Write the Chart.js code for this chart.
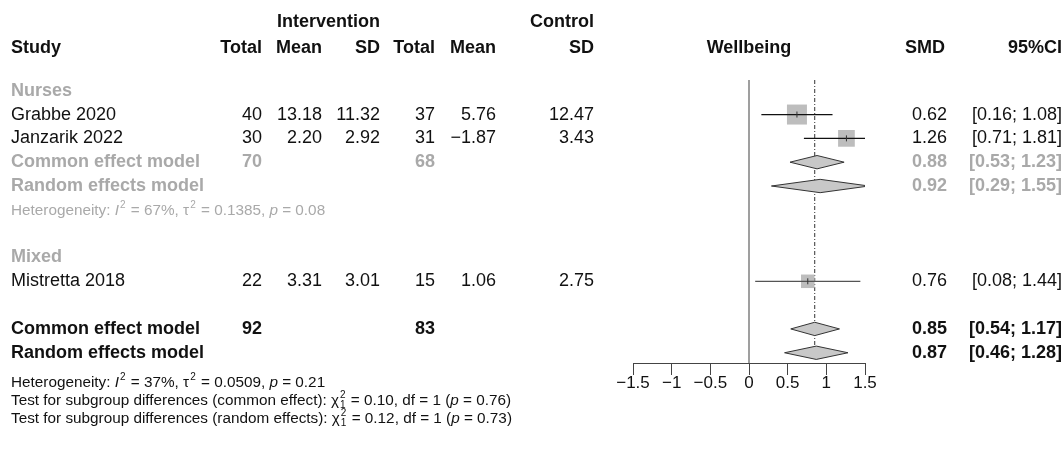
<!DOCTYPE html>
<html>
<head>
<meta charset="utf-8">
<script src="https://cdn.jsdelivr.net/npm/chart.js@4/dist/chart.umd.min.js"></script>
<style>
  body { margin: 0; background: #fff; }
  #wrap { width: 1063px; height: 458px; }
</style>
</head>
<body>
<div id="wrap"><canvas id="forest" width="1063" height="458"></canvas></div>
<script>
// Wellbeing forest plot (meta-analysis, SMD)
const studies   = ['Grabbe 2020', 'Janzarik 2022', 'Mistretta 2018'];
const subgroup  = ['Nurses', 'Nurses', 'Mixed'];
const intTotal  = [40, 30, 22];
const intMean   = [13.18, 2.20, 3.31];
const intSD     = [11.32, 2.92, 3.01];
const ctlTotal  = [37, 31, 15];
const ctlMean   = [5.76, -1.87, 1.06];
const ctlSD     = [12.47, 3.43, 2.75];
const smd       = [0.62, 1.26, 0.76];
const ciLow     = [0.16, 0.71, 0.08];
const ciHigh    = [1.08, 1.81, 1.44];

// pooled estimates [est, lo, hi]
const nursesCommon  = [0.88, 0.53, 1.23];
const nursesRandom  = [0.92, 0.29, 1.55];
const nursesTotals  = [70, 68];
const overallCommon = [0.85, 0.54, 1.17];
const overallRandom = [0.87, 0.46, 1.28];
const overallTotals = [92, 83];

// heterogeneity [I2 %, tau2, p] and subgroup tests [chi2, df, p]
const hetNurses   = [67, 0.1385, 0.08];
const hetOverall  = [37, 0.0509, 0.21];
const testCommon  = [0.10, 1, 0.76];
const testRandom  = [0.12, 1, 0.73];

const xTicks = [-1.5, -1, -0.5, 0, 0.5, 1, 1.5];

// ---- layout (row index on the y scale) ----
const studyRows = [1, 2, 8];
const ROW_NURSES = 0, ROW_N_COMMON = 3, ROW_N_RANDOM = 4, ROW_N_HET = 5;
const ROW_MIXED = 7, ROW_COMMON = 10, ROW_RANDOM = 11;
const Y_MIN = -0.45, Y_MAX = 11.43;
const DIAMOND_H = 0.28;

const FONT = "'Liberation Sans', Arial, Helvetica, sans-serif";
const GREY = '#a9a9a9';
const BLACK = '#111';

// square size from inverse-variance weights
const weights = ciLow.map((lo, i) => { const se = (ciHigh[i] - lo) / 3.92; return 1 / (se * se); });
const wMax = Math.max(...weights);
const squareRadius = weights.map(w => 20 * Math.sqrt(w / wMax) / Math.SQRT2);

const diamond = (p, row) => [
  { x: p[1], y: row }, { x: p[0], y: row - DIAMOND_H },
  { x: p[2], y: row }, { x: p[0], y: row + DIAMOND_H }, { x: p[1], y: row }
];

const datasets = [];
datasets.push({
  data: smd.map((v, i) => ({ x: v, y: studyRows[i] })),
  showLine: false, pointStyle: 'line', rotation: 90, pointRadius: 3,
  borderColor: '#333', borderWidth: 1, order: 0
});
datasets.push({
  data: smd.map((v, i) => ({ x: v, y: studyRows[i] })),
  showLine: false, pointStyle: 'rect', pointRadius: squareRadius,
  backgroundColor: '#bdbdbd', borderWidth: 0, order: 3
});
studies.forEach((s, i) => {
  datasets.push({
    data: [{ x: ciLow[i], y: studyRows[i] }, { x: ciHigh[i], y: studyRows[i] }],
    borderColor: i === 2 ? '#555' : '#111', borderWidth: 1.2, pointRadius: 0, order: 2
  });
});
[[nursesCommon, ROW_N_COMMON], [nursesRandom, ROW_N_RANDOM],
 [overallCommon, ROW_COMMON], [overallRandom, ROW_RANDOM]].forEach(([p, r]) => {
  datasets.push({
    data: diamond(p, r), borderColor: '#333', borderWidth: 1,
    backgroundColor: '#c8c8c8', fill: 'shape', pointRadius: 0, tension: 0, order: 4
  });
});
datasets.push({
  data: [{ x: overallCommon[0], y: Y_MIN }, { x: overallCommon[0], y: ROW_RANDOM }],
  borderColor: '#333', borderWidth: 1, borderDash: [4, 2, 1, 2], pointRadius: 0, order: 5
});
datasets.push({
  data: [{ x: 0, y: Y_MIN }, { x: 0, y: Y_MAX }],
  borderColor: '#808080', borderWidth: 1.5, pointRadius: 0, order: 6
});

const fmt = (v, d) => v.toFixed(d).replace('-', '\u2212');

// rich text: segments [text, style] with style n / i / sup / supsub
function rich(ctx, x, yc, segs, size, color) {
  const base = yc + size * 0.36;
  ctx.fillStyle = color;
  ctx.textAlign = 'left';
  ctx.textBaseline = 'alphabetic';
  segs.forEach(([t, st]) => {
    if (st === 'sup' || st === 'supsub') {
      ctx.font = `${Math.round(size * 0.68)}px ${FONT}`;
      const sup = st === 'sup' ? t : t[0];
      ctx.fillText(sup, x + 1, base - size * 0.45);
      let w = ctx.measureText(sup).width;
      if (st === 'supsub') {
        ctx.fillText(t[1], x + 1, base + size * 0.25);
        w = Math.max(w, ctx.measureText(t[1]).width);
      }
      x += w + 2;
    } else {
      ctx.font = `${st === 'i' ? 'italic ' : ''}${size}px ${FONT}`;
      ctx.fillText(t, x, base);
      x += ctx.measureText(t).width;
    }
  });
}

const hetSegs = h => [['Heterogeneity: ', 'n'], ['I', 'i'], ['2', 'sup'],
  [` = ${h[0]}%, \u03C4`, 'n'], ['2', 'sup'], [` = ${h[1].toFixed(4)}, `, 'n'],
  ['p', 'i'], [` = ${h[2].toFixed(2)}`, 'n']];
const testSegs = (lab, t) => [[`Test for subgroup differences (${lab}): \u03C7`, 'n'],
  [['2', String(t[1])], 'supsub'], [` = ${t[0].toFixed(2)}, df = ${t[1]} (`, 'n'],
  ['p', 'i'], [` = ${t[2].toFixed(2)})`, 'n']];

const COL = { study: 11, iTot: 262, iMean: 322, iSD: 380, cTot: 435, cMean: 496, cSD: 594, smd: 947, ci: 1062 };

const textPlugin = {
  id: 'forestText',
  afterDraw(chart) {
    const ctx = chart.ctx;
    const ys = chart.scales.y;
    const py = r => ys.getPixelForValue(r);
    const t = (s, x, y, align, bold, color, size = 18) => {
      ctx.font = `${bold ? 'bold ' : ''}${size}px ${FONT}`;
      ctx.fillStyle = color; ctx.textAlign = align; ctx.textBaseline = 'middle';
      ctx.fillText(s, x, y);
    };
    ctx.save();
    // headers
    t('Intervention', COL.iSD, 22, 'right', true, BLACK);
    t('Control', COL.cSD, 22, 'right', true, BLACK);
    t('Study', COL.study, 48, 'left', true, BLACK);
    [['Total', COL.iTot], ['Mean', COL.iMean], ['SD', COL.iSD], ['Total', COL.cTot],
     ['Mean', COL.cMean], ['SD', COL.cSD], ['SMD', COL.smd - 2], ['95%CI', COL.ci]]
      .forEach(([s, x]) => t(s, x, 48, 'right', true, BLACK));
    t('Wellbeing', chart.scales.x.getPixelForValue(0), 48, 'center', true, BLACK);

    // subgroup labels
    t(subgroup[0], COL.study, py(ROW_NURSES), 'left', true, GREY);
    t(subgroup[2], COL.study, py(ROW_MIXED), 'left', true, GREY);

    // studies
    studies.forEach((s, i) => {
      const y = py(studyRows[i]);
      t(s, COL.study, y, 'left', false, BLACK);
      t(String(intTotal[i]), COL.iTot, y, 'right', false, BLACK);
      t(fmt(intMean[i], 2), COL.iMean, y, 'right', false, BLACK);
      t(fmt(intSD[i], 2), COL.iSD, y, 'right', false, BLACK);
      t(String(ctlTotal[i]), COL.cTot, y, 'right', false, BLACK);
      t(fmt(ctlMean[i], 2), COL.cMean, y, 'right', false, BLACK);
      t(fmt(ctlSD[i], 2), COL.cSD, y, 'right', false, BLACK);
      t(fmt(smd[i], 2), COL.smd, y, 'right', false, BLACK);
      t(`[${fmt(ciLow[i], 2)}; ${fmt(ciHigh[i], 2)}]`, COL.ci, y, 'right', false, BLACK);
    });

    // pooled rows
    const pooled = (label, p, tot, row, color) => {
      const y = py(row);
      t(label, COL.study, y, 'left', true, color);
      if (tot) {
        t(String(tot[0]), COL.iTot, y, 'right', true, color);
        t(String(tot[1]), COL.cTot, y, 'right', true, color);
      }
      t(fmt(p[0], 2), COL.smd, y, 'right', true, color);
      t(`[${fmt(p[1], 2)}; ${fmt(p[2], 2)}]`, COL.ci, y, 'right', true, color);
    };
    pooled('Common effect model', nursesCommon, nursesTotals, ROW_N_COMMON, GREY);
    pooled('Random effects model', nursesRandom, null, ROW_N_RANDOM, GREY);
    pooled('Common effect model', overallCommon, overallTotals, ROW_COMMON, BLACK);
    pooled('Random effects model', overallRandom, null, ROW_RANDOM, BLACK);

    rich(ctx, COL.study, py(ROW_N_HET), hetSegs(hetNurses), 15.3, GREY);
    rich(ctx, COL.study, 381, hetSegs(hetOverall), 15.3, BLACK);
    rich(ctx, COL.study, 399, testSegs('common effect', testCommon), 15.3, BLACK);
    rich(ctx, COL.study, 417, testSegs('random effects', testRandom), 15.3, BLACK);
    ctx.restore();
  }
};

new Chart(document.getElementById('forest'), {
  type: 'line',
  data: { datasets },
  options: {
    responsive: false,
    animation: false,
    events: [],
    layout: { padding: { left: 633, right: 198, top: 80, bottom: 45 } },
    plugins: { legend: { display: false }, tooltip: { enabled: false } },
    scales: {
      x: {
        type: 'linear', min: -1.5, max: 1.5,
        afterBuildTicks: s => { s.ticks = xTicks.map(v => ({ value: v })); },
        afterFit: s => { s.height = 50; },
        grid: { display: true, drawOnChartArea: false, drawTicks: true, tickLength: 12, color: '#444', lineWidth: 1 },
        border: { display: true, color: '#444', width: 1 },
        ticks: {
          color: BLACK, padding: -2, maxRotation: 0, autoSkip: false,
          font: { family: FONT, size: 17 },
          callback: v => String(v).replace('-', '\u2212')
        }
      },
      y: { type: 'linear', display: false, reverse: true, min: Y_MIN, max: Y_MAX }
    }
  },
  plugins: [textPlugin]
});
</script>
</body>
</html>
